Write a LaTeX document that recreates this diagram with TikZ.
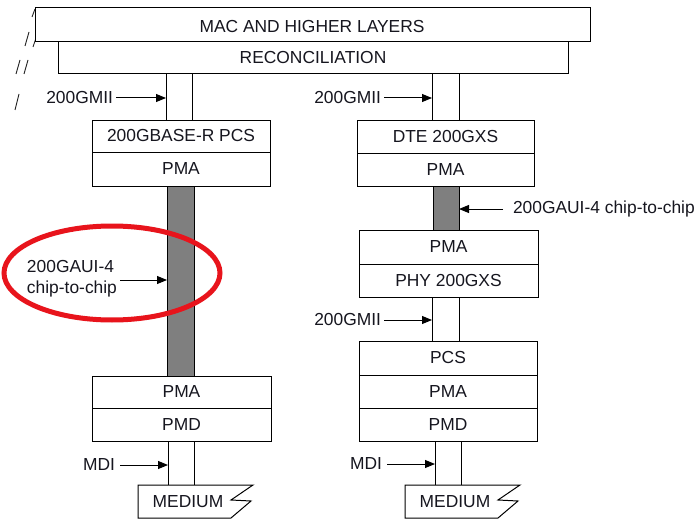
\documentclass[tikz,border=0pt]{standalone}
\usepackage{fontspec}
\setmainfont{Liberation Sans}
\usetikzlibrary{arrows.meta}
\definecolor{txt}{HTML}{16161F}
\definecolor{barfill}{HTML}{7F7F7F}
\definecolor{ringred}{HTML}{E8141C}
\begin{document}
\begin{tikzpicture}[x=1pt,y=-1pt,
  every node/.style={font=\fontsize{17.4}{20}\selectfont, text=txt},
  layer/.style={draw=black, line width=1pt, inner sep=0pt, outer sep=0pt, fill=white},
  shaft/.style={draw=black, line width=1pt, inner sep=0pt, outer sep=0pt, fill=white},
  bar/.style={shaft, fill=barfill},
  lab/.style={inner sep=0pt, outer sep=0pt},
  arr/.style={-{Triangle[length=10pt,width=8pt]}, line width=1pt, draw=black},
  slash/.style={line width=0.9pt, draw=black!85}]
\fill[white] (0,0) rectangle (694,519);
\useasboundingbox (0,0) rectangle (694,519);

% margin marks
\draw[slash] (32,17) -- (35,9);
\draw[slash] (25,46) -- (29,32);
\draw[slash] (33,47) -- (36,38);
\draw[slash] (16,74) -- (20,60);
\draw[slash] (24,74) -- (28,60);
\draw[slash] (15,110) -- (19,94);

% shafts and bars
\node[shaft, minimum width=26, minimum height=46] (shL1) at (179,97) {};
\node[bar, minimum width=27, minimum height=190] (barL) at (180.5,281) {};
\node[shaft, minimum width=26, minimum height=45] (shL2) at (181,463.5) {};
\node[shaft, minimum width=27, minimum height=46] (shR1) at (445.5,97) {};
\node[bar, minimum width=26, minimum height=44] (barR) at (446,208) {};
\node[shaft, minimum width=27, minimum height=44] (shR2) at (445.5,319) {};
\node[shaft, minimum width=26, minimum height=45] (shR3) at (448,463.5) {};

% top layers
\node[layer, minimum width=555, minimum height=34] (mac) at (312.5,25) {};
\node[lab] (macT) at (312,27) {MAC AND HIGHER LAYERS};
\node[layer, minimum width=510, minimum height=32] (rec) at (313,58) {RECONCILIATION};

% left stack
\node[layer, minimum width=178, minimum height=32] (pcsL) at (181,136) {200GBASE-R PCS};
\node[layer, minimum width=178, minimum height=34] (pmaL1) at (181,169) {PMA};
\node[layer, minimum width=179, minimum height=32] (pmaL2) at (181.5,392) {PMA};
\node[layer, minimum width=179, minimum height=33] (pmdL) at (181.5,424.5) {PMD};

% right stack
\node[layer, minimum width=177, minimum height=33] (dte) at (445.5,136.5) {DTE 200GXS};
\node[layer, minimum width=177, minimum height=33] (pmaR1) at (445.5,169.5) {PMA};
\node[layer, minimum width=179, minimum height=34] (pmaR2) at (448.5,247) {PMA};
\node[layer, minimum width=179, minimum height=33] (phyR) at (448.5,280.5) {PHY 200GXS};
\node[layer, minimum width=178, minimum height=34] (pcsR) at (448,358) {PCS};
\node[layer, minimum width=178, minimum height=33] (pmaR3) at (448,391.5) {PMA};
\node[layer, minimum width=178, minimum height=33] (pmdR) at (448,424.5) {PMD};

% media
\draw[line width=1pt, fill=white] (138,485) -- (253,485) -- (231,500) -- (251,501) -- (231,518) -- (138,518) -- cycle;
\node[lab] (medL) at (188,502) {MEDIUM};
\draw[line width=1pt, fill=white] (405,485) -- (520,485) -- (498,500) -- (518,501) -- (498,518) -- (405,518) -- cycle;
\node[lab] (medR) at (455,502) {MEDIUM};

% labels and arrows
\node[lab, anchor=east] (gmL) at (113,98) {200GMII};
\draw[arr] ([xshift=3pt]gmL.east) -- (shL1.west |- gmL.east);
\node[lab, anchor=east] (gmR1) at (381,98) {200GMII};
\draw[arr] ([xshift=3pt]gmR1.east) -- (shR1.west |- gmR1.east);
\node[lab, anchor=east] (gmR2) at (381,320) {200GMII};
\draw[arr] ([xshift=3pt]gmR2.east) -- (shR2.west |- gmR2.east);

\node[lab, anchor=west, align=left, font=\fontsize{17.4}{21}\selectfont] (auiL) at (27,279) {200GAUI-4\\chip-to-chip};
\coordinate (auiLs) at (120,280);
\draw[arr] (auiLs) -- (barL.west |- auiLs);

\node[lab, anchor=west] (auiR) at (513,209) {200GAUI-4 chip-to-chip};
\draw[arr] ([xshift=-10pt]auiR.west) -- (barR.east |- auiR.west);

\node[lab, anchor=east] (mdiL) at (115,465) {MDI};
\draw[arr] ([xshift=5pt]mdiL.east) -- (shL2.west |- mdiL.east);
\node[lab, anchor=east] (mdiR) at (382,464) {MDI};
\draw[arr] ([xshift=5pt]mdiR.east) -- (shR3.west |- mdiR.east);

% highlight ring
\draw[ringred, line width=5pt] (112,273) ellipse [x radius=108pt, y radius=47pt];
\end{tikzpicture}
\end{document}
